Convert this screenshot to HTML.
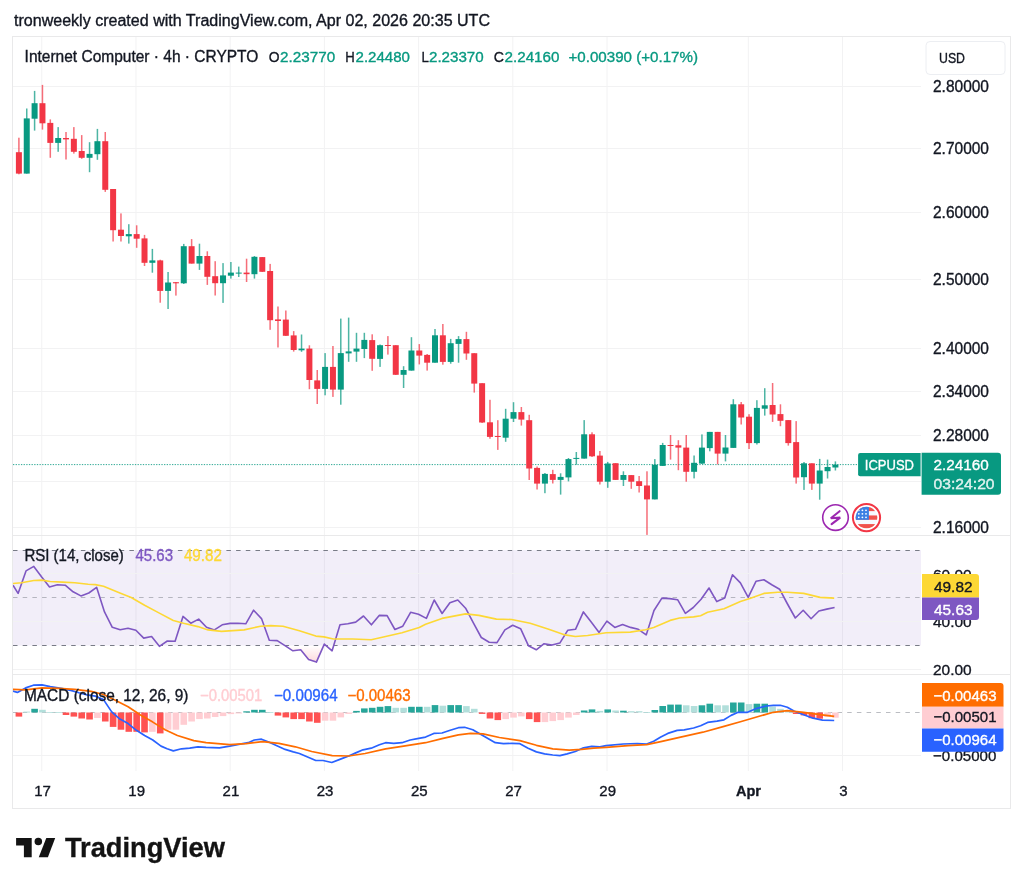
<!DOCTYPE html><html><head><meta charset="utf-8"><style>html,body{margin:0;padding:0;background:#fff;width:1024px;height:888px;overflow:hidden}svg{display:block;filter:grayscale(0.001)}text{font-family:"Liberation Sans",sans-serif}</style></head><body>
<svg width="1024" height="888" viewBox="0 0 1024 888">
<rect width="1024" height="888" fill="#fff"/>
<text x="14" y="25.5" font-size="16" fill="#131722" textLength="476" lengthAdjust="spacingAndGlyphs" stroke="#131722" stroke-width="0.35">tronweekly created with TradingView.com, Apr 02, 2026 20:35 UTC</text>
<rect x="12.5" y="36.5" width="998" height="772" fill="none" stroke="#e9e9ea" stroke-width="1"/>
<line x1="41.75" y1="37" x2="41.75" y2="771" stroke="#f2f2f3" stroke-width="1"/>
<line x1="135.97" y1="37" x2="135.97" y2="771" stroke="#f2f2f3" stroke-width="1"/>
<line x1="230.18" y1="37" x2="230.18" y2="771" stroke="#f2f2f3" stroke-width="1"/>
<line x1="324.39" y1="37" x2="324.39" y2="771" stroke="#f2f2f3" stroke-width="1"/>
<line x1="418.6" y1="37" x2="418.6" y2="771" stroke="#f2f2f3" stroke-width="1"/>
<line x1="512.81" y1="37" x2="512.81" y2="771" stroke="#f2f2f3" stroke-width="1"/>
<line x1="607.02" y1="37" x2="607.02" y2="771" stroke="#f2f2f3" stroke-width="1"/>
<line x1="748.34" y1="37" x2="748.34" y2="771" stroke="#f2f2f3" stroke-width="1"/>
<line x1="842.55" y1="37" x2="842.55" y2="771" stroke="#f2f2f3" stroke-width="1"/>
<line x1="13" y1="86.5" x2="921" y2="86.5" stroke="#f2f2f3" stroke-width="1"/>
<line x1="13" y1="148.5" x2="921" y2="148.5" stroke="#f2f2f3" stroke-width="1"/>
<line x1="13" y1="212.5" x2="921" y2="212.5" stroke="#f2f2f3" stroke-width="1"/>
<line x1="13" y1="279.5" x2="921" y2="279.5" stroke="#f2f2f3" stroke-width="1"/>
<line x1="13" y1="348.5" x2="921" y2="348.5" stroke="#f2f2f3" stroke-width="1"/>
<line x1="13" y1="391.5" x2="921" y2="391.5" stroke="#f2f2f3" stroke-width="1"/>
<line x1="13" y1="435.5" x2="921" y2="435.5" stroke="#f2f2f3" stroke-width="1"/>
<line x1="13" y1="481.5" x2="921" y2="481.5" stroke="#f2f2f3" stroke-width="1"/>
<line x1="13" y1="527.5" x2="921" y2="527.5" stroke="#f2f2f3" stroke-width="1"/>
<line x1="13" y1="535.5" x2="1010" y2="535.5" stroke="#e9e9ea" stroke-width="1"/>
<line x1="13" y1="674.5" x2="1010" y2="674.5" stroke="#e9e9ea" stroke-width="1"/>
<rect x="13" y="550.1" width="908" height="95.39999999999998" fill="#7e57c2" fill-opacity="0.1"/>
<line x1="13" y1="573.5" x2="921" y2="573.5" stroke="#f2f2f3" stroke-width="1"/>
<line x1="13" y1="621.5" x2="921" y2="621.5" stroke="#f2f2f3" stroke-width="1"/>
<line x1="13" y1="669.5" x2="921" y2="669.5" stroke="#f2f2f3" stroke-width="1"/>
<line x1="13" y1="550.5" x2="921" y2="550.5" stroke="#787b86" stroke-opacity="1" stroke-width="1" stroke-dasharray="4.5 5.2"/>
<line x1="13" y1="645.5" x2="921" y2="645.5" stroke="#787b86" stroke-opacity="1" stroke-width="1" stroke-dasharray="4.5 5.2"/>
<line x1="13" y1="597.5" x2="921" y2="597.5" stroke="#787b86" stroke-opacity="0.5" stroke-width="1" stroke-dasharray="4.5 5.2"/>
<line x1="13" y1="712.5" x2="921" y2="712.5" stroke="#787b86" stroke-opacity="0.5" stroke-width="1" stroke-dasharray="4.5 5.2"/>
<line x1="13" y1="755.5" x2="921" y2="755.5" stroke="#f2f2f3" stroke-width="1"/>
<defs><clipPath id="cm"><rect x="13" y="37" width="908" height="498"/></clipPath><clipPath id="cr"><rect x="13" y="536" width="908" height="138"/></clipPath><clipPath id="cd"><rect x="13" y="675" width="908" height="96"/></clipPath></defs>
<line x1="13" y1="464.6" x2="858" y2="464.6" stroke="#089981" stroke-width="1" stroke-dasharray="1.3 1.35" stroke-opacity="0.85"/>
<g clip-path="url(#cm)">
<rect x="18.15" y="137.7" width="1.5" height="36.6" fill="#f23645" fill-opacity="0.72"/>
<rect x="15.90" y="152.2" width="6" height="21.4" fill="#f23645"/>
<rect x="26.00" y="108.5" width="1.5" height="65.1" fill="#089981" fill-opacity="0.72"/>
<rect x="23.75" y="118.4" width="6" height="55.2" fill="#089981"/>
<rect x="33.85" y="90.9" width="1.5" height="39.7" fill="#089981" fill-opacity="0.72"/>
<rect x="31.60" y="103.2" width="6" height="15.5" fill="#089981"/>
<rect x="41.70" y="84.9" width="1.5" height="44.7" fill="#f23645" fill-opacity="0.72"/>
<rect x="39.45" y="103.2" width="6" height="20.1" fill="#f23645"/>
<rect x="49.55" y="119.4" width="1.5" height="38.4" fill="#f23645" fill-opacity="0.72"/>
<rect x="47.30" y="122.9" width="6" height="20.0" fill="#f23645"/>
<rect x="57.41" y="127.1" width="1.5" height="24.7" fill="#089981" fill-opacity="0.72"/>
<rect x="55.16" y="138.0" width="6" height="4.9" fill="#089981"/>
<rect x="65.26" y="132.0" width="1.5" height="27.5" fill="#f23645" fill-opacity="0.72"/>
<rect x="63.01" y="138.0" width="6" height="1.4" fill="#f23645"/>
<rect x="73.11" y="127.1" width="1.5" height="26.5" fill="#f23645" fill-opacity="0.72"/>
<rect x="70.86" y="138.8" width="6" height="13.0" fill="#f23645"/>
<rect x="80.96" y="135.1" width="1.5" height="23.7" fill="#f23645" fill-opacity="0.72"/>
<rect x="78.71" y="151.0" width="6" height="6.8" fill="#f23645"/>
<rect x="88.81" y="142.2" width="1.5" height="30.0" fill="#089981" fill-opacity="0.72"/>
<rect x="86.56" y="153.9" width="6" height="3.9" fill="#089981"/>
<rect x="96.66" y="128.9" width="1.5" height="30.9" fill="#089981" fill-opacity="0.72"/>
<rect x="94.41" y="141.2" width="6" height="13.0" fill="#089981"/>
<rect x="104.51" y="132.0" width="1.5" height="59.9" fill="#f23645" fill-opacity="0.72"/>
<rect x="102.26" y="141.2" width="6" height="48.6" fill="#f23645"/>
<rect x="112.36" y="189.0" width="1.5" height="52.5" fill="#f23645" fill-opacity="0.72"/>
<rect x="110.11" y="189.0" width="6" height="41.2" fill="#f23645"/>
<rect x="120.21" y="213.4" width="1.5" height="28.1" fill="#f23645" fill-opacity="0.72"/>
<rect x="117.96" y="229.7" width="6" height="6.3" fill="#f23645"/>
<rect x="128.06" y="224.2" width="1.5" height="19.4" fill="#089981" fill-opacity="0.72"/>
<rect x="125.81" y="234.1" width="6" height="2.2" fill="#089981"/>
<rect x="135.91" y="225.3" width="1.5" height="22.5" fill="#f23645" fill-opacity="0.72"/>
<rect x="133.66" y="234.1" width="6" height="4.6" fill="#f23645"/>
<rect x="143.77" y="234.9" width="1.5" height="31.1" fill="#f23645" fill-opacity="0.72"/>
<rect x="141.52" y="238.4" width="6" height="24.4" fill="#f23645"/>
<rect x="151.62" y="248.9" width="1.5" height="23.8" fill="#089981" fill-opacity="0.72"/>
<rect x="149.37" y="260.4" width="6" height="2.4" fill="#089981"/>
<rect x="159.47" y="259.7" width="1.5" height="43.0" fill="#f23645" fill-opacity="0.72"/>
<rect x="157.22" y="260.4" width="6" height="30.5" fill="#f23645"/>
<rect x="167.32" y="272.0" width="1.5" height="37.0" fill="#089981" fill-opacity="0.72"/>
<rect x="165.07" y="282.5" width="6" height="8.4" fill="#089981"/>
<rect x="175.17" y="282.0" width="1.5" height="13.6" fill="#f23645" fill-opacity="0.72"/>
<rect x="172.92" y="282.2" width="6" height="1.1" fill="#f23645"/>
<rect x="183.02" y="243.9" width="1.5" height="40.1" fill="#089981" fill-opacity="0.72"/>
<rect x="180.77" y="246.2" width="6" height="37.1" fill="#089981"/>
<rect x="190.87" y="239.1" width="1.5" height="24.5" fill="#f23645" fill-opacity="0.72"/>
<rect x="188.62" y="246.2" width="6" height="17.4" fill="#f23645"/>
<rect x="198.72" y="243.7" width="1.5" height="26.2" fill="#089981" fill-opacity="0.72"/>
<rect x="196.47" y="256.0" width="6" height="7.6" fill="#089981"/>
<rect x="206.57" y="251.3" width="1.5" height="33.6" fill="#f23645" fill-opacity="0.72"/>
<rect x="204.32" y="256.0" width="6" height="20.8" fill="#f23645"/>
<rect x="214.43" y="261.2" width="1.5" height="34.3" fill="#f23645" fill-opacity="0.72"/>
<rect x="212.18" y="276.2" width="6" height="7.0" fill="#f23645"/>
<rect x="222.28" y="263.1" width="1.5" height="39.8" fill="#089981" fill-opacity="0.72"/>
<rect x="220.03" y="275.4" width="6" height="7.8" fill="#089981"/>
<rect x="230.13" y="262.0" width="1.5" height="16.6" fill="#089981" fill-opacity="0.72"/>
<rect x="227.88" y="272.6" width="6" height="3.1" fill="#089981"/>
<rect x="237.98" y="266.6" width="1.5" height="10.4" fill="#089981" fill-opacity="0.72"/>
<rect x="235.73" y="272.6" width="6" height="1.0" fill="#089981"/>
<rect x="245.83" y="258.7" width="1.5" height="23.3" fill="#f23645" fill-opacity="0.72"/>
<rect x="243.58" y="272.6" width="6" height="1.6" fill="#f23645"/>
<rect x="253.68" y="256.0" width="1.5" height="22.6" fill="#089981" fill-opacity="0.72"/>
<rect x="251.43" y="256.8" width="6" height="17.4" fill="#089981"/>
<rect x="261.53" y="257.1" width="1.5" height="14.9" fill="#f23645" fill-opacity="0.72"/>
<rect x="259.28" y="257.1" width="6" height="14.7" fill="#f23645"/>
<rect x="269.38" y="263.9" width="1.5" height="65.9" fill="#f23645" fill-opacity="0.72"/>
<rect x="267.13" y="271.0" width="6" height="49.2" fill="#f23645"/>
<rect x="277.23" y="306.5" width="1.5" height="41.0" fill="#f23645" fill-opacity="0.72"/>
<rect x="274.98" y="319.4" width="6" height="1.6" fill="#f23645"/>
<rect x="285.08" y="310.5" width="1.5" height="25.5" fill="#f23645" fill-opacity="0.72"/>
<rect x="282.83" y="319.6" width="6" height="16.2" fill="#f23645"/>
<rect x="292.94" y="331.1" width="1.5" height="20.5" fill="#f23645" fill-opacity="0.72"/>
<rect x="290.69" y="335.4" width="6" height="14.6" fill="#f23645"/>
<rect x="300.79" y="334.5" width="1.5" height="17.3" fill="#089981" fill-opacity="0.72"/>
<rect x="298.54" y="348.6" width="6" height="1.7" fill="#089981"/>
<rect x="308.64" y="345.3" width="1.5" height="43.9" fill="#f23645" fill-opacity="0.72"/>
<rect x="306.39" y="348.6" width="6" height="31.4" fill="#f23645"/>
<rect x="316.49" y="370.0" width="1.5" height="34.0" fill="#f23645" fill-opacity="0.72"/>
<rect x="314.24" y="380.4" width="6" height="8.5" fill="#f23645"/>
<rect x="324.34" y="353.1" width="1.5" height="42.2" fill="#089981" fill-opacity="0.72"/>
<rect x="322.09" y="366.9" width="6" height="22.0" fill="#089981"/>
<rect x="332.19" y="346.0" width="1.5" height="50.9" fill="#f23645" fill-opacity="0.72"/>
<rect x="329.94" y="366.9" width="6" height="22.7" fill="#f23645"/>
<rect x="340.04" y="318.6" width="1.5" height="86.1" fill="#089981" fill-opacity="0.72"/>
<rect x="337.79" y="353.1" width="6" height="36.5" fill="#089981"/>
<rect x="347.89" y="317.6" width="1.5" height="44.2" fill="#089981" fill-opacity="0.72"/>
<rect x="345.64" y="351.4" width="6" height="2.0" fill="#089981"/>
<rect x="355.74" y="332.8" width="1.5" height="29.0" fill="#089981" fill-opacity="0.72"/>
<rect x="353.49" y="348.6" width="6" height="3.0" fill="#089981"/>
<rect x="363.59" y="332.8" width="1.5" height="25.3" fill="#089981" fill-opacity="0.72"/>
<rect x="361.34" y="339.9" width="6" height="9.1" fill="#089981"/>
<rect x="371.44" y="334.3" width="1.5" height="36.5" fill="#f23645" fill-opacity="0.72"/>
<rect x="369.19" y="340.1" width="6" height="18.7" fill="#f23645"/>
<rect x="379.30" y="344.5" width="1.5" height="22.4" fill="#089981" fill-opacity="0.72"/>
<rect x="377.05" y="345.2" width="6" height="13.7" fill="#089981"/>
<rect x="387.15" y="336.1" width="1.5" height="18.5" fill="#f23645" fill-opacity="0.72"/>
<rect x="384.90" y="345.0" width="6" height="1.0" fill="#f23645"/>
<rect x="395.00" y="345.2" width="1.5" height="29.8" fill="#f23645" fill-opacity="0.72"/>
<rect x="392.75" y="345.2" width="6" height="29.6" fill="#f23645"/>
<rect x="402.85" y="366.2" width="1.5" height="21.8" fill="#089981" fill-opacity="0.72"/>
<rect x="400.60" y="370.0" width="6" height="4.8" fill="#089981"/>
<rect x="410.70" y="337.2" width="1.5" height="33.4" fill="#089981" fill-opacity="0.72"/>
<rect x="408.45" y="350.5" width="6" height="20.1" fill="#089981"/>
<rect x="418.55" y="344.1" width="1.5" height="20.3" fill="#f23645" fill-opacity="0.72"/>
<rect x="416.30" y="350.5" width="6" height="5.1" fill="#f23645"/>
<rect x="426.40" y="354.0" width="1.5" height="16.6" fill="#f23645" fill-opacity="0.72"/>
<rect x="424.15" y="354.9" width="6" height="7.8" fill="#f23645"/>
<rect x="434.25" y="329.0" width="1.5" height="33.7" fill="#089981" fill-opacity="0.72"/>
<rect x="432.00" y="335.3" width="6" height="27.4" fill="#089981"/>
<rect x="442.10" y="324.0" width="1.5" height="40.7" fill="#f23645" fill-opacity="0.72"/>
<rect x="439.85" y="335.3" width="6" height="26.6" fill="#f23645"/>
<rect x="449.95" y="338.9" width="1.5" height="24.8" fill="#089981" fill-opacity="0.72"/>
<rect x="447.70" y="343.2" width="6" height="18.7" fill="#089981"/>
<rect x="457.81" y="336.1" width="1.5" height="26.6" fill="#089981" fill-opacity="0.72"/>
<rect x="455.56" y="339.1" width="6" height="4.8" fill="#089981"/>
<rect x="465.66" y="331.8" width="1.5" height="28.0" fill="#f23645" fill-opacity="0.72"/>
<rect x="463.41" y="339.1" width="6" height="14.4" fill="#f23645"/>
<rect x="473.51" y="353.2" width="1.5" height="39.4" fill="#f23645" fill-opacity="0.72"/>
<rect x="471.26" y="353.2" width="6" height="30.4" fill="#f23645"/>
<rect x="481.36" y="383.2" width="1.5" height="39.8" fill="#f23645" fill-opacity="0.72"/>
<rect x="479.11" y="383.2" width="6" height="39.3" fill="#f23645"/>
<rect x="489.21" y="399.8" width="1.5" height="38.9" fill="#f23645" fill-opacity="0.72"/>
<rect x="486.96" y="422.3" width="6" height="14.6" fill="#f23645"/>
<rect x="497.06" y="420.2" width="1.5" height="29.7" fill="#f23645" fill-opacity="0.72"/>
<rect x="494.81" y="436.0" width="6" height="1.0" fill="#f23645"/>
<rect x="504.91" y="408.8" width="1.5" height="33.0" fill="#089981" fill-opacity="0.72"/>
<rect x="502.66" y="418.7" width="6" height="19.0" fill="#089981"/>
<rect x="512.76" y="402.2" width="1.5" height="19.8" fill="#089981" fill-opacity="0.72"/>
<rect x="510.51" y="412.1" width="6" height="6.6" fill="#089981"/>
<rect x="520.61" y="407.0" width="1.5" height="18.6" fill="#f23645" fill-opacity="0.72"/>
<rect x="518.36" y="412.1" width="6" height="7.5" fill="#f23645"/>
<rect x="528.47" y="414.8" width="1.5" height="65.2" fill="#f23645" fill-opacity="0.72"/>
<rect x="526.22" y="420.2" width="6" height="48.3" fill="#f23645"/>
<rect x="536.32" y="466.5" width="1.5" height="23.0" fill="#f23645" fill-opacity="0.72"/>
<rect x="534.07" y="467.9" width="6" height="15.7" fill="#f23645"/>
<rect x="544.17" y="473.0" width="1.5" height="20.2" fill="#089981" fill-opacity="0.72"/>
<rect x="541.92" y="473.9" width="6" height="9.7" fill="#089981"/>
<rect x="552.02" y="469.8" width="1.5" height="13.7" fill="#f23645" fill-opacity="0.72"/>
<rect x="549.77" y="474.1" width="6" height="5.8" fill="#f23645"/>
<rect x="559.87" y="473.3" width="1.5" height="21.3" fill="#089981" fill-opacity="0.72"/>
<rect x="557.62" y="476.9" width="6" height="3.0" fill="#089981"/>
<rect x="567.72" y="458.0" width="1.5" height="23.4" fill="#089981" fill-opacity="0.72"/>
<rect x="565.47" y="459.1" width="6" height="18.3" fill="#089981"/>
<rect x="575.57" y="452.0" width="1.5" height="12.7" fill="#089981" fill-opacity="0.72"/>
<rect x="573.32" y="457.9" width="6" height="1.0" fill="#089981"/>
<rect x="583.42" y="420.1" width="1.5" height="38.5" fill="#089981" fill-opacity="0.72"/>
<rect x="581.17" y="434.3" width="6" height="24.3" fill="#089981"/>
<rect x="591.27" y="432.3" width="1.5" height="24.7" fill="#f23645" fill-opacity="0.72"/>
<rect x="589.02" y="434.3" width="6" height="22.0" fill="#f23645"/>
<rect x="599.12" y="451.0" width="1.5" height="33.5" fill="#f23645" fill-opacity="0.72"/>
<rect x="596.87" y="455.6" width="6" height="26.1" fill="#f23645"/>
<rect x="606.98" y="461.9" width="1.5" height="25.9" fill="#089981" fill-opacity="0.72"/>
<rect x="604.73" y="463.5" width="6" height="18.2" fill="#089981"/>
<rect x="614.83" y="463.2" width="1.5" height="16.8" fill="#f23645" fill-opacity="0.72"/>
<rect x="612.58" y="463.2" width="6" height="16.7" fill="#f23645"/>
<rect x="622.68" y="471.3" width="1.5" height="14.7" fill="#089981" fill-opacity="0.72"/>
<rect x="620.43" y="475.0" width="6" height="4.9" fill="#089981"/>
<rect x="630.53" y="475.1" width="1.5" height="13.7" fill="#f23645" fill-opacity="0.72"/>
<rect x="628.28" y="475.1" width="6" height="6.6" fill="#f23645"/>
<rect x="638.38" y="476.0" width="1.5" height="16.5" fill="#f23645" fill-opacity="0.72"/>
<rect x="636.13" y="481.2" width="6" height="4.8" fill="#f23645"/>
<rect x="646.23" y="471.3" width="1.5" height="63.6" fill="#f23645" fill-opacity="0.72"/>
<rect x="643.98" y="485.5" width="6" height="13.9" fill="#f23645"/>
<rect x="654.08" y="459.1" width="1.5" height="40.3" fill="#089981" fill-opacity="0.72"/>
<rect x="651.83" y="464.7" width="6" height="34.7" fill="#089981"/>
<rect x="661.93" y="442.9" width="1.5" height="23.1" fill="#089981" fill-opacity="0.72"/>
<rect x="659.68" y="445.0" width="6" height="20.9" fill="#089981"/>
<rect x="669.78" y="435.0" width="1.5" height="24.6" fill="#f23645" fill-opacity="0.72"/>
<rect x="667.53" y="445.0" width="6" height="1.0" fill="#f23645"/>
<rect x="677.63" y="440.2" width="1.5" height="30.0" fill="#f23645" fill-opacity="0.72"/>
<rect x="675.38" y="445.3" width="6" height="2.3" fill="#f23645"/>
<rect x="685.49" y="435.0" width="1.5" height="46.7" fill="#f23645" fill-opacity="0.72"/>
<rect x="683.24" y="447.6" width="6" height="24.2" fill="#f23645"/>
<rect x="693.34" y="455.5" width="1.5" height="22.9" fill="#089981" fill-opacity="0.72"/>
<rect x="691.09" y="462.8" width="6" height="9.0" fill="#089981"/>
<rect x="701.19" y="434.4" width="1.5" height="29.6" fill="#089981" fill-opacity="0.72"/>
<rect x="698.94" y="447.6" width="6" height="16.0" fill="#089981"/>
<rect x="709.04" y="431.9" width="1.5" height="19.4" fill="#089981" fill-opacity="0.72"/>
<rect x="706.79" y="431.9" width="6" height="16.2" fill="#089981"/>
<rect x="716.89" y="431.9" width="1.5" height="32.5" fill="#f23645" fill-opacity="0.72"/>
<rect x="714.64" y="431.9" width="6" height="21.7" fill="#f23645"/>
<rect x="724.74" y="435.0" width="1.5" height="26.4" fill="#089981" fill-opacity="0.72"/>
<rect x="722.49" y="447.5" width="6" height="6.1" fill="#089981"/>
<rect x="732.59" y="399.2" width="1.5" height="48.7" fill="#089981" fill-opacity="0.72"/>
<rect x="730.34" y="404.3" width="6" height="43.6" fill="#089981"/>
<rect x="740.44" y="402.0" width="1.5" height="22.5" fill="#f23645" fill-opacity="0.72"/>
<rect x="738.19" y="404.3" width="6" height="13.2" fill="#f23645"/>
<rect x="748.29" y="414.2" width="1.5" height="34.8" fill="#f23645" fill-opacity="0.72"/>
<rect x="746.04" y="416.7" width="6" height="26.4" fill="#f23645"/>
<rect x="756.14" y="400.2" width="1.5" height="44.3" fill="#089981" fill-opacity="0.72"/>
<rect x="753.89" y="407.9" width="6" height="35.2" fill="#089981"/>
<rect x="764.00" y="388.2" width="1.5" height="27.4" fill="#089981" fill-opacity="0.72"/>
<rect x="761.75" y="405.3" width="6" height="3.4" fill="#089981"/>
<rect x="771.85" y="383.0" width="1.5" height="38.9" fill="#f23645" fill-opacity="0.72"/>
<rect x="769.60" y="405.0" width="6" height="9.5" fill="#f23645"/>
<rect x="779.70" y="404.3" width="1.5" height="21.9" fill="#f23645" fill-opacity="0.72"/>
<rect x="777.45" y="414.1" width="6" height="6.7" fill="#f23645"/>
<rect x="787.55" y="420.1" width="1.5" height="25.5" fill="#f23645" fill-opacity="0.72"/>
<rect x="785.30" y="420.1" width="6" height="23.0" fill="#f23645"/>
<rect x="795.40" y="421.1" width="1.5" height="62.5" fill="#f23645" fill-opacity="0.72"/>
<rect x="793.15" y="442.1" width="6" height="35.4" fill="#f23645"/>
<rect x="803.25" y="462.0" width="1.5" height="27.9" fill="#089981" fill-opacity="0.72"/>
<rect x="801.00" y="463.3" width="6" height="13.9" fill="#089981"/>
<rect x="811.10" y="463.3" width="1.5" height="26.6" fill="#f23645" fill-opacity="0.72"/>
<rect x="808.85" y="463.3" width="6" height="20.3" fill="#f23645"/>
<rect x="818.95" y="458.9" width="1.5" height="40.8" fill="#089981" fill-opacity="0.72"/>
<rect x="816.70" y="470.5" width="6" height="13.1" fill="#089981"/>
<rect x="826.80" y="459.6" width="1.5" height="18.9" fill="#089981" fill-opacity="0.72"/>
<rect x="824.55" y="467.0" width="6" height="4.2" fill="#089981"/>
<rect x="834.65" y="461.4" width="1.5" height="9.1" fill="#089981" fill-opacity="0.72"/>
<rect x="832.40" y="464.6" width="6" height="2.9" fill="#089981"/>
</g>
<g clip-path="url(#cr)">
<defs><linearGradient id="os" gradientUnits="userSpaceOnUse" x1="0" y1="645.5" x2="0" y2="717"><stop offset="0" stop-color="#f23645" stop-opacity="0"/><stop offset="1" stop-color="#f23645" stop-opacity="0.8"/></linearGradient><clipPath id="below30"><rect x="13" y="645.5" width="908" height="100"/></clipPath></defs>
<polygon points="13.0,645.5 13.0,585.2 18.1,593.4 26.0,570.9 33.8,566.4 41.7,577.0 49.5,586.9 57.4,584.8 65.2,585.2 73.1,591.8 80.9,595.9 88.8,593.0 96.6,587.3 104.5,611.9 112.3,627.3 120.2,629.7 128.0,628.3 135.9,630.3 143.7,638.1 151.6,636.5 159.4,646.3 167.3,641.0 175.1,641.2 183.0,616.4 190.8,623.2 198.7,619.1 206.5,627.3 214.4,629.9 222.2,624.8 230.1,623.4 237.9,623.2 245.8,623.8 253.6,610.2 261.5,618.6 269.3,640.2 277.2,640.6 285.0,645.7 292.9,650.8 300.7,649.8 308.6,659.5 316.4,662.1 324.3,644.1 332.1,650.8 340.0,624.8 347.8,623.8 355.7,622.1 363.5,616.0 371.4,624.8 379.2,615.4 387.1,615.6 394.9,629.5 402.8,626.2 410.6,612.3 418.5,614.3 426.4,618.4 434.2,600.0 442.1,613.5 449.9,602.7 457.8,600.0 465.6,608.2 473.5,623.2 481.3,637.5 489.2,642.2 497.0,642.6 504.9,629.9 512.7,625.2 520.6,628.7 528.4,645.7 536.3,649.8 544.1,643.7 552.0,645.1 559.8,643.1 567.7,630.3 575.5,629.3 583.4,611.9 591.2,622.1 599.1,632.4 606.9,621.1 614.8,627.4 622.6,624.6 630.5,627.4 638.3,629.3 646.2,634.9 654.0,610.5 661.9,598.1 669.7,598.6 677.6,599.7 685.4,613.3 693.3,607.5 701.1,599.3 709.0,588.0 716.8,601.6 724.7,598.1 732.5,574.7 740.4,582.9 748.2,597.4 756.1,581.2 763.9,579.8 771.8,584.7 779.6,589.2 787.5,604.0 795.3,618.0 803.2,610.3 811.1,618.7 818.9,611.0 826.8,609.1 834.6,607.5 834.6,645.5" fill="url(#os)" clip-path="url(#below30)" transform="" />
<polyline points="13.0,585.2 18.1,593.4 26.0,570.9 33.8,566.4 41.7,577.0 49.5,586.9 57.4,584.8 65.2,585.2 73.1,591.8 80.9,595.9 88.8,593.0 96.6,587.3 104.5,611.9 112.3,627.3 120.2,629.7 128.0,628.3 135.9,630.3 143.7,638.1 151.6,636.5 159.4,646.3 167.3,641.0 175.1,641.2 183.0,616.4 190.8,623.2 198.7,619.1 206.5,627.3 214.4,629.9 222.2,624.8 230.1,623.4 237.9,623.2 245.8,623.8 253.6,610.2 261.5,618.6 269.3,640.2 277.2,640.6 285.0,645.7 292.9,650.8 300.7,649.8 308.6,659.5 316.4,662.1 324.3,644.1 332.1,650.8 340.0,624.8 347.8,623.8 355.7,622.1 363.5,616.0 371.4,624.8 379.2,615.4 387.1,615.6 394.9,629.5 402.8,626.2 410.6,612.3 418.5,614.3 426.4,618.4 434.2,600.0 442.1,613.5 449.9,602.7 457.8,600.0 465.6,608.2 473.5,623.2 481.3,637.5 489.2,642.2 497.0,642.6 504.9,629.9 512.7,625.2 520.6,628.7 528.4,645.7 536.3,649.8 544.1,643.7 552.0,645.1 559.8,643.1 567.7,630.3 575.5,629.3 583.4,611.9 591.2,622.1 599.1,632.4 606.9,621.1 614.8,627.4 622.6,624.6 630.5,627.4 638.3,629.3 646.2,634.9 654.0,610.5 661.9,598.1 669.7,598.6 677.6,599.7 685.4,613.3 693.3,607.5 701.1,599.3 709.0,588.0 716.8,601.6 724.7,598.1 732.5,574.7 740.4,582.9 748.2,597.4 756.1,581.2 763.9,579.8 771.8,584.7 779.6,589.2 787.5,604.0 795.3,618.0 803.2,610.3 811.1,618.7 818.9,611.0 826.8,609.1 834.6,607.5" fill="none" stroke="#7e57c2" stroke-width="1.6" stroke-linejoin="round"/>
<polyline points="12.2,583.6 21.5,582.8 33.8,580.5 42.0,580.1 50.2,581.5 62.5,582.1 74.8,582.8 88.2,584.2 95.3,584.6 103.5,586.2 119.9,593.0 131.2,597.5 144.6,605.3 158.9,612.9 173.3,620.5 183.5,623.2 197.9,626.6 208.1,629.9 221.5,631.4 244.1,629.9 260.5,626.2 270.7,625.6 283.0,626.2 299.4,630.7 315.8,636.1 324.0,636.9 333.3,639.0 352.8,639.0 371.2,639.8 385.6,636.5 402.0,632.8 419.2,627.5 425.6,624.2 442.0,618.4 465.6,613.9 478.9,615.4 496.4,619.1 511.7,619.5 530.2,623.2 548.7,629.3 565.1,634.9 575.3,636.5 587.6,635.5 606.1,632.8 630.3,632.1 645.5,629.7 653.7,627.4 670.1,620.4 679.5,618.0 693.6,616.9 700.6,615.7 707.6,612.2 724.0,608.7 740.4,601.6 749.8,598.6 763.9,593.4 777.9,592.2 787.3,592.2 803.7,593.4 820.1,597.4 834.2,598.1" fill="none" stroke="#fdd835" stroke-width="1.6" stroke-linejoin="round"/>
</g>
<g clip-path="url(#cd)">
<rect x="15.60" y="712.5" width="6.6" height="4.1" fill="#ff5252"/>
<rect x="23.45" y="711.6" width="6.6" height="0.9" fill="#b2dfdb"/>
<rect x="31.30" y="708.8" width="6.6" height="3.7" fill="#26a69a"/>
<rect x="39.15" y="709.8" width="6.6" height="2.7" fill="#b2dfdb"/>
<rect x="47.00" y="712.1" width="6.6" height="0.8" fill="#b2dfdb"/>
<rect x="54.86" y="712.1" width="6.6" height="0.8" fill="#b2dfdb"/>
<rect x="62.71" y="712.5" width="6.6" height="2.5" fill="#ff5252"/>
<rect x="70.56" y="712.5" width="6.6" height="4.1" fill="#ff5252"/>
<rect x="78.41" y="712.5" width="6.6" height="6.0" fill="#ff5252"/>
<rect x="86.26" y="712.5" width="6.6" height="7.0" fill="#ff5252"/>
<rect x="94.11" y="712.5" width="6.6" height="5.5" fill="#ffcdd2"/>
<rect x="101.96" y="712.5" width="6.6" height="9.0" fill="#ff5252"/>
<rect x="109.81" y="712.5" width="6.6" height="14.4" fill="#ff5252"/>
<rect x="117.66" y="712.5" width="6.6" height="17.2" fill="#ff5252"/>
<rect x="125.51" y="712.5" width="6.6" height="19.3" fill="#ff5252"/>
<rect x="133.36" y="712.5" width="6.6" height="19.3" fill="#ff5252"/>
<rect x="141.22" y="712.5" width="6.6" height="19.9" fill="#ff5252"/>
<rect x="149.07" y="712.5" width="6.6" height="19.3" fill="#ffcdd2"/>
<rect x="156.92" y="712.5" width="6.6" height="20.9" fill="#ff5252"/>
<rect x="164.77" y="712.5" width="6.6" height="17.2" fill="#ffcdd2"/>
<rect x="172.62" y="712.5" width="6.6" height="17.2" fill="#ffcdd2"/>
<rect x="180.47" y="712.5" width="6.6" height="12.3" fill="#ffcdd2"/>
<rect x="188.32" y="712.5" width="6.6" height="9.0" fill="#ffcdd2"/>
<rect x="196.17" y="712.5" width="6.6" height="6.6" fill="#ffcdd2"/>
<rect x="204.02" y="712.5" width="6.6" height="6.0" fill="#ffcdd2"/>
<rect x="211.88" y="712.5" width="6.6" height="4.5" fill="#ffcdd2"/>
<rect x="219.73" y="712.5" width="6.6" height="3.6" fill="#ffcdd2"/>
<rect x="227.58" y="712.5" width="6.6" height="1.6" fill="#ffcdd2"/>
<rect x="235.43" y="712.5" width="6.6" height="1.0" fill="#ffcdd2"/>
<rect x="243.28" y="711.3" width="6.6" height="1.2" fill="#26a69a"/>
<rect x="251.13" y="709.8" width="6.6" height="2.7" fill="#26a69a"/>
<rect x="258.98" y="709.8" width="6.6" height="2.7" fill="#26a69a"/>
<rect x="266.83" y="712.1" width="6.6" height="0.8" fill="#b2dfdb"/>
<rect x="274.68" y="712.5" width="6.6" height="3.1" fill="#ff5252"/>
<rect x="282.53" y="712.5" width="6.6" height="4.9" fill="#ff5252"/>
<rect x="290.38" y="712.5" width="6.6" height="6.6" fill="#ff5252"/>
<rect x="298.24" y="712.5" width="6.6" height="6.6" fill="#ff5252"/>
<rect x="306.09" y="712.5" width="6.6" height="9.0" fill="#ff5252"/>
<rect x="313.94" y="712.5" width="6.6" height="10.3" fill="#ff5252"/>
<rect x="321.79" y="712.5" width="6.6" height="8.2" fill="#ffcdd2"/>
<rect x="329.64" y="712.5" width="6.6" height="8.2" fill="#ffcdd2"/>
<rect x="337.49" y="712.5" width="6.6" height="4.9" fill="#ffcdd2"/>
<rect x="345.34" y="712.5" width="6.6" height="1.4" fill="#ffcdd2"/>
<rect x="353.19" y="710.9" width="6.6" height="1.6" fill="#26a69a"/>
<rect x="361.04" y="708.4" width="6.6" height="4.1" fill="#26a69a"/>
<rect x="368.89" y="707.8" width="6.6" height="4.7" fill="#26a69a"/>
<rect x="376.75" y="706.8" width="6.6" height="5.7" fill="#26a69a"/>
<rect x="384.60" y="706.1" width="6.6" height="6.4" fill="#26a69a"/>
<rect x="392.45" y="707.8" width="6.6" height="4.7" fill="#b2dfdb"/>
<rect x="400.30" y="707.8" width="6.6" height="4.7" fill="#b2dfdb"/>
<rect x="408.15" y="706.8" width="6.6" height="5.7" fill="#26a69a"/>
<rect x="416.00" y="706.8" width="6.6" height="5.7" fill="#26a69a"/>
<rect x="423.85" y="706.8" width="6.6" height="5.7" fill="#b2dfdb"/>
<rect x="431.70" y="705.1" width="6.6" height="7.4" fill="#26a69a"/>
<rect x="439.55" y="705.7" width="6.6" height="6.8" fill="#b2dfdb"/>
<rect x="447.40" y="705.1" width="6.6" height="7.4" fill="#26a69a"/>
<rect x="455.26" y="705.1" width="6.6" height="7.4" fill="#26a69a"/>
<rect x="463.11" y="706.1" width="6.6" height="6.4" fill="#b2dfdb"/>
<rect x="470.96" y="708.8" width="6.6" height="3.7" fill="#b2dfdb"/>
<rect x="478.81" y="712.5" width="6.6" height="1.4" fill="#ff5252"/>
<rect x="486.66" y="712.5" width="6.6" height="6.0" fill="#ff5252"/>
<rect x="494.51" y="712.5" width="6.6" height="7.6" fill="#ff5252"/>
<rect x="502.36" y="712.5" width="6.6" height="6.6" fill="#ffcdd2"/>
<rect x="510.21" y="712.5" width="6.6" height="5.1" fill="#ffcdd2"/>
<rect x="518.06" y="712.5" width="6.6" height="3.9" fill="#ffcdd2"/>
<rect x="525.92" y="712.5" width="6.6" height="6.6" fill="#ff5252"/>
<rect x="533.77" y="712.5" width="6.6" height="9.6" fill="#ff5252"/>
<rect x="541.62" y="712.5" width="6.6" height="9.6" fill="#ffcdd2"/>
<rect x="549.47" y="712.5" width="6.6" height="8.6" fill="#ffcdd2"/>
<rect x="557.32" y="712.5" width="6.6" height="7.6" fill="#ffcdd2"/>
<rect x="565.17" y="712.5" width="6.6" height="5.1" fill="#ffcdd2"/>
<rect x="573.02" y="712.5" width="6.6" height="2.5" fill="#ffcdd2"/>
<rect x="580.87" y="710.5" width="6.6" height="2.0" fill="#26a69a"/>
<rect x="588.72" y="709.4" width="6.6" height="3.1" fill="#26a69a"/>
<rect x="596.57" y="710.9" width="6.6" height="1.6" fill="#b2dfdb"/>
<rect x="604.43" y="709.4" width="6.6" height="3.1" fill="#26a69a"/>
<rect x="612.28" y="710.5" width="6.6" height="2.0" fill="#b2dfdb"/>
<rect x="620.13" y="710.7" width="6.6" height="1.8" fill="#26a69a"/>
<rect x="627.98" y="711.2" width="6.6" height="1.3" fill="#b2dfdb"/>
<rect x="635.83" y="711.2" width="6.6" height="1.3" fill="#b2dfdb"/>
<rect x="643.68" y="712.1" width="6.6" height="0.8" fill="#b2dfdb"/>
<rect x="651.53" y="710.0" width="6.6" height="2.5" fill="#26a69a"/>
<rect x="659.38" y="706.0" width="6.6" height="6.5" fill="#26a69a"/>
<rect x="667.23" y="704.6" width="6.6" height="7.9" fill="#26a69a"/>
<rect x="675.08" y="704.6" width="6.6" height="7.9" fill="#26a69a"/>
<rect x="682.94" y="705.3" width="6.6" height="7.2" fill="#b2dfdb"/>
<rect x="690.79" y="706.0" width="6.6" height="6.5" fill="#b2dfdb"/>
<rect x="698.64" y="705.3" width="6.6" height="7.2" fill="#26a69a"/>
<rect x="706.49" y="703.7" width="6.6" height="8.8" fill="#26a69a"/>
<rect x="714.34" y="705.3" width="6.6" height="7.2" fill="#b2dfdb"/>
<rect x="722.19" y="705.3" width="6.6" height="7.2" fill="#b2dfdb"/>
<rect x="730.04" y="702.5" width="6.6" height="10.0" fill="#26a69a"/>
<rect x="737.89" y="702.5" width="6.6" height="10.0" fill="#26a69a"/>
<rect x="745.74" y="704.1" width="6.6" height="8.4" fill="#b2dfdb"/>
<rect x="753.59" y="703.7" width="6.6" height="8.8" fill="#26a69a"/>
<rect x="761.45" y="703.7" width="6.6" height="8.8" fill="#26a69a"/>
<rect x="769.30" y="706.5" width="6.6" height="6.0" fill="#b2dfdb"/>
<rect x="777.15" y="708.8" width="6.6" height="3.7" fill="#b2dfdb"/>
<rect x="785.00" y="710.7" width="6.6" height="1.8" fill="#b2dfdb"/>
<rect x="792.85" y="712.5" width="6.6" height="1.5" fill="#ff5252"/>
<rect x="800.70" y="712.5" width="6.6" height="2.9" fill="#ff5252"/>
<rect x="808.55" y="712.5" width="6.6" height="5.7" fill="#ff5252"/>
<rect x="816.40" y="712.5" width="6.6" height="6.2" fill="#ff5252"/>
<rect x="824.25" y="712.5" width="6.6" height="4.5" fill="#ffcdd2"/>
<rect x="832.10" y="712.5" width="6.6" height="5.2" fill="#ffcdd2"/>
<polyline points="12.2,690.8 17.4,692.4 25.6,687.9 33.4,685.2 42.0,684.8 50.2,686.7 62.5,688.7 70.7,690.4 78.9,692.8 87.1,694.9 95.3,696.1 103.5,699.6 111.7,711.9 119.9,719.1 128.1,723.6 136.4,730.3 144.6,735.5 152.8,740.0 161.0,746.1 167.1,748.8 173.3,750.9 181.5,748.8 189.7,748.2 197.9,746.8 206.1,747.4 219.5,747.8 229.7,746.1 240.0,744.1 248.2,742.7 254.3,740.0 261.5,739.2 268.7,742.0 276.9,745.7 285.1,749.4 293.3,751.9 299.4,753.5 307.6,757.0 315.8,760.5 323.0,760.5 331.8,762.5 340.5,759.1 348.7,756.0 355.8,752.9 363.0,749.8 371.2,748.2 379.4,744.7 385.6,742.7 393.8,743.3 402.0,742.7 410.2,740.0 417.4,738.6 425.6,737.1 433.8,733.4 442.0,733.0 450.2,730.3 458.4,727.7 464.6,727.3 472.8,729.7 481.0,734.5 495.3,742.7 503.5,743.7 511.7,743.3 519.9,743.7 528.1,748.2 536.4,751.9 544.6,753.9 552.8,755.0 559.9,755.6 567.1,753.9 575.3,751.5 583.5,747.8 591.7,746.3 599.9,746.8 606.1,745.7 623.3,744.0 637.3,743.5 646.7,744.0 653.7,741.2 660.8,736.9 667.8,733.4 677.2,730.4 684.2,729.9 693.6,728.0 700.6,725.7 707.6,722.4 717.0,721.2 724.0,719.8 731.1,715.4 738.1,712.3 747.5,712.3 756.9,708.3 766.2,706.0 773.3,705.3 780.3,705.3 787.3,707.2 794.4,711.2 803.7,714.7 813.1,718.2 822.5,720.1 834.2,720.5" fill="none" stroke="#2962ff" stroke-width="1.7" stroke-linejoin="round"/>
<polyline points="12.2,689.3 25.6,689.9 42.0,687.9 58.4,688.3 74.8,689.3 91.2,691.4 103.5,694.5 115.8,700.6 128.1,706.8 140.5,715.0 152.8,722.1 165.1,729.7 177.4,735.5 193.8,740.6 206.1,742.7 229.7,744.7 246.1,743.7 262.5,741.6 278.9,743.3 295.3,746.8 311.7,751.5 332.2,755.6 348.7,756.0 365.1,753.5 385.6,748.8 402.0,746.3 425.6,742.7 442.0,738.6 458.4,734.9 470.7,733.4 483.0,733.8 499.4,737.5 519.9,740.6 536.4,745.3 552.8,748.8 569.2,750.2 581.5,749.4 593.8,748.2 606.1,747.4 628.0,745.6 646.7,744.7 660.8,741.6 679.5,737.4 702.9,732.2 724.0,726.4 740.4,721.7 759.2,716.3 773.3,712.3 787.3,710.7 803.7,712.3 820.1,714.7 834.2,716.3" fill="none" stroke="#ff6d00" stroke-width="1.7" stroke-linejoin="round"/>
</g>
<text x="933" y="92.4" font-size="15.9" fill="#131722" textLength="56" lengthAdjust="spacingAndGlyphs" stroke="#131722" stroke-width="0.35">2.80000</text>
<text x="933" y="154.2" font-size="15.9" fill="#131722" textLength="56" lengthAdjust="spacingAndGlyphs" stroke="#131722" stroke-width="0.35">2.70000</text>
<text x="933" y="218.3" font-size="15.9" fill="#131722" textLength="56" lengthAdjust="spacingAndGlyphs" stroke="#131722" stroke-width="0.35">2.60000</text>
<text x="933" y="284.9" font-size="15.9" fill="#131722" textLength="56" lengthAdjust="spacingAndGlyphs" stroke="#131722" stroke-width="0.35">2.50000</text>
<text x="933" y="354.3" font-size="15.9" fill="#131722" textLength="56" lengthAdjust="spacingAndGlyphs" stroke="#131722" stroke-width="0.35">2.40000</text>
<text x="933" y="397.3" font-size="15.9" fill="#131722" textLength="56" lengthAdjust="spacingAndGlyphs" stroke="#131722" stroke-width="0.35">2.34000</text>
<text x="933" y="441.4" font-size="15.9" fill="#131722" textLength="56" lengthAdjust="spacingAndGlyphs" stroke="#131722" stroke-width="0.35">2.28000</text>
<text x="933" y="533.3" font-size="15.9" fill="#131722" textLength="56" lengthAdjust="spacingAndGlyphs" stroke="#131722" stroke-width="0.35">2.16000</text>
<text x="933" y="579.6" font-size="15.4" fill="#131722" textLength="38.7" lengthAdjust="spacingAndGlyphs" stroke="#131722" stroke-width="0.35">60.00</text>
<text x="933" y="627.2" font-size="15.4" fill="#131722" textLength="38.7" lengthAdjust="spacingAndGlyphs" stroke="#131722" stroke-width="0.35">40.00</text>
<text x="933" y="675.0" font-size="15.4" fill="#131722" textLength="38.7" lengthAdjust="spacingAndGlyphs" stroke="#131722" stroke-width="0.35">20.00</text>
<text x="933" y="760.6" font-size="15.4" fill="#131722" textLength="63.3" lengthAdjust="spacingAndGlyphs" stroke="#131722" stroke-width="0.35">−0.05000</text>
<rect x="926" y="41.5" width="79" height="33" rx="4" fill="#fff" stroke="#eceef2"/>
<text x="939" y="63.3" font-size="15" fill="#131722" textLength="26" lengthAdjust="spacingAndGlyphs" stroke="#131722" stroke-width="0.35">USD</text>
<text x="42.5" y="796" font-size="15" fill="#131722" text-anchor="middle" stroke="#131722" stroke-width="0.35">17</text>
<text x="136.7" y="796" font-size="15" fill="#131722" text-anchor="middle" stroke="#131722" stroke-width="0.35">19</text>
<text x="230.9" y="796" font-size="15" fill="#131722" text-anchor="middle" stroke="#131722" stroke-width="0.35">21</text>
<text x="325.1" y="796" font-size="15" fill="#131722" text-anchor="middle" stroke="#131722" stroke-width="0.35">23</text>
<text x="419.3" y="796" font-size="15" fill="#131722" text-anchor="middle" stroke="#131722" stroke-width="0.35">25</text>
<text x="513.5" y="796" font-size="15" fill="#131722" text-anchor="middle" stroke="#131722" stroke-width="0.35">27</text>
<text x="607.7" y="796" font-size="15" fill="#131722" text-anchor="middle" stroke="#131722" stroke-width="0.35">29</text>
<text x="843.3" y="796" font-size="15" fill="#131722" text-anchor="middle" stroke="#131722" stroke-width="0.35">3</text>
<text x="736" y="796" font-size="15" font-weight="700" fill="#131722" textLength="25" lengthAdjust="spacingAndGlyphs" stroke="#131722" stroke-width="0.35">Apr</text>
<text x="24.6" y="61.7" font-size="15.8" fill="#131722" textLength="233.7" lengthAdjust="spacingAndGlyphs" stroke="#131722" stroke-width="0.35">Internet Computer · 4h · CRYPTO</text>
<text x="268.7" y="61.7" font-size="15.4" fill="#131722" textLength="10.8" lengthAdjust="spacingAndGlyphs" stroke="#131722" stroke-width="0.35">O</text>
<text x="280.1" y="61.7" font-size="15.4" fill="#089981" textLength="55.1" lengthAdjust="spacingAndGlyphs" stroke="#089981" stroke-width="0.35">2.23770</text>
<text x="345.3" y="61.7" font-size="15.4" fill="#131722" textLength="9.5" lengthAdjust="spacingAndGlyphs" stroke="#131722" stroke-width="0.35">H</text>
<text x="355.5" y="61.7" font-size="15.4" fill="#089981" textLength="54.5" lengthAdjust="spacingAndGlyphs" stroke="#089981" stroke-width="0.35">2.24480</text>
<text x="421.5" y="61.7" font-size="15.4" fill="#131722" textLength="7.4" lengthAdjust="spacingAndGlyphs" stroke="#131722" stroke-width="0.35">L</text>
<text x="429" y="61.7" font-size="15.4" fill="#089981" textLength="54.7" lengthAdjust="spacingAndGlyphs" stroke="#089981" stroke-width="0.35">2.23370</text>
<text x="493.8" y="61.7" font-size="15.4" fill="#131722" textLength="10.2" lengthAdjust="spacingAndGlyphs" stroke="#131722" stroke-width="0.35">C</text>
<text x="504.5" y="61.7" font-size="15.4" fill="#089981" textLength="55" lengthAdjust="spacingAndGlyphs" stroke="#089981" stroke-width="0.35">2.24160</text>
<text x="568.5" y="61.7" font-size="15.4" fill="#089981" textLength="129.5" lengthAdjust="spacingAndGlyphs" stroke="#089981" stroke-width="0.35">+0.00390 (+0.17%)</text>
<text x="24.4" y="561" font-size="15.6" fill="#131722" textLength="99.4" lengthAdjust="spacingAndGlyphs" stroke="#131722" stroke-width="0.35">RSI (14, close)</text>
<text x="135.5" y="561" font-size="15.6" fill="#7e57c2" textLength="37.5" lengthAdjust="spacingAndGlyphs" stroke="#7e57c2" stroke-width="0.35">45.63</text>
<text x="183.9" y="561" font-size="15.6" fill="#fdd835" textLength="38" lengthAdjust="spacingAndGlyphs" stroke="#fdd835" stroke-width="0.35">49.82</text>
<text x="24" y="700.6" font-size="15.6" fill="#131722" textLength="164.4" lengthAdjust="spacingAndGlyphs" stroke="#131722" stroke-width="0.35">MACD (close, 12, 26, 9)</text>
<text x="200" y="700.6" font-size="15.6" fill="#ffcdd2" textLength="62.3" lengthAdjust="spacingAndGlyphs" stroke="#ffcdd2" stroke-width="0.35">−0.00501</text>
<text x="274" y="700.6" font-size="15.6" fill="#2962ff" textLength="63.6" lengthAdjust="spacingAndGlyphs" stroke="#2962ff" stroke-width="0.35">−0.00964</text>
<text x="347.4" y="700.6" font-size="15.6" fill="#ff6d00" textLength="63.2" lengthAdjust="spacingAndGlyphs" stroke="#ff6d00" stroke-width="0.35">−0.00463</text>
<path d="M858.1,455 a2,2 0 0 1 2,-2 H920.6 V476.3 H860.1 a2,2 0 0 1 -2,-2 Z" fill="#089981"/>
<text x="864.8" y="470.3" font-size="15" fill="#fff" textLength="49.2" lengthAdjust="spacingAndGlyphs" stroke="#fff" stroke-width="0.35">ICPUSD</text>
<path d="M921.6,452.8 H998 a3,3 0 0 1 3,3 V491.7 a3,3 0 0 1 -3,3 H921.6 Z" fill="#089981"/>
<text x="933.6" y="470.3" font-size="15.4" fill="#fff" textLength="55.2" lengthAdjust="spacingAndGlyphs" stroke="#fff" stroke-width="0.35">2.24160</text>
<text x="933.6" y="488.8" font-size="15.4" fill="#fff" fill-opacity="0.8" textLength="61" lengthAdjust="spacingAndGlyphs" stroke="#fff" stroke-width="0.35">03:24:20</text>
<path d="M922,574 H976 a3,3 0 0 1 3,3 V597.4 H922 Z" fill="#fdd835"/>
<text x="934" y="591.5" font-size="15.4" fill="#131722" textLength="38.5" lengthAdjust="spacingAndGlyphs" stroke="#131722" stroke-width="0.35">49.82</text>
<path d="M922,597.4 H979 V617 a3,3 0 0 1 -3,3 H922 Z" fill="#7e57c2"/>
<text x="934" y="614.5" font-size="15.4" fill="#fff" textLength="38.5" lengthAdjust="spacingAndGlyphs" stroke="#fff" stroke-width="0.35">45.63</text>
<path d="M922,683.1 H1000.5 a3,3 0 0 1 3,3 V706.8 H922 Z" fill="#ff6d00"/>
<text x="933.5" y="700.5" font-size="15.4" fill="#fff" textLength="63" lengthAdjust="spacingAndGlyphs" stroke="#fff" stroke-width="0.35">−0.00463</text>
<rect x="922" y="706.8" width="81.5" height="21.6" fill="#ffcdd2"/>
<text x="933.5" y="722.3" font-size="15.4" fill="#131722" textLength="63" lengthAdjust="spacingAndGlyphs" stroke="#131722" stroke-width="0.35">−0.00501</text>
<path d="M922,728.4 H1003.5 V748.8 a3,3 0 0 1 -3,3 H922 Z" fill="#2962ff"/>
<text x="933.5" y="745" font-size="15.4" fill="#fff" textLength="63" lengthAdjust="spacingAndGlyphs" stroke="#fff" stroke-width="0.35">−0.00964</text>
<circle cx="835.5" cy="517.6" r="12.8" fill="#fff" stroke="#9c27b0" stroke-width="1.6"/>
<path d="M839.6,511.2 L830.8,518.2 L840.2,517.6 L831.6,524.2" fill="none" stroke="#9c27b0" stroke-width="2.1" stroke-linecap="round" stroke-linejoin="miter" stroke-miterlimit="3"/>
<circle cx="866.5" cy="517.6" r="13.6" fill="#fff" stroke="#f23645" stroke-width="2"/>
<clipPath id="fl"><circle cx="866.5" cy="517.6" r="10.8"/></clipPath>
<g clip-path="url(#fl)">
<rect x="855" y="506" width="23" height="23" fill="#f5f9ff"/>
<rect x="855" y="506.80" width="23" height="4.32" fill="#f0524d"/>
<rect x="855" y="515.44" width="23" height="4.32" fill="#f0524d"/>
<rect x="855" y="524.08" width="23" height="4.32" fill="#f0524d"/>
<rect x="855" y="506" width="13.9" height="13.8" fill="#3b80e4"/>
<circle cx="858.8" cy="510.3" r="0.9" fill="#fff"/>
<circle cx="862.4" cy="510.3" r="0.9" fill="#fff"/>
<circle cx="866.0" cy="510.3" r="0.9" fill="#fff"/>
<circle cx="858.8" cy="513.8" r="0.9" fill="#fff"/>
<circle cx="862.4" cy="513.8" r="0.9" fill="#fff"/>
<circle cx="866.0" cy="513.8" r="0.9" fill="#fff"/>
<circle cx="858.8" cy="517.3" r="0.9" fill="#fff"/>
<circle cx="862.4" cy="517.3" r="0.9" fill="#fff"/>
<circle cx="866.0" cy="517.3" r="0.9" fill="#fff"/>
</g>
<path d="M16.1,837.9 H31.7 V857.2 H23.9 V845.5 H16.1 Z" fill="#131313"/>
<circle cx="38.3" cy="841.6" r="3.75" fill="#131313"/>
<path d="M46.3,837.9 H55.2 L47.9,857.2 H38.75 Z" fill="#131313"/>
<text x="64.9" y="857.2" font-size="27.5" font-weight="700" fill="#131313" textLength="160" lengthAdjust="spacingAndGlyphs" stroke="#131313" stroke-width="0.35">TradingView</text>
</svg></body></html>
